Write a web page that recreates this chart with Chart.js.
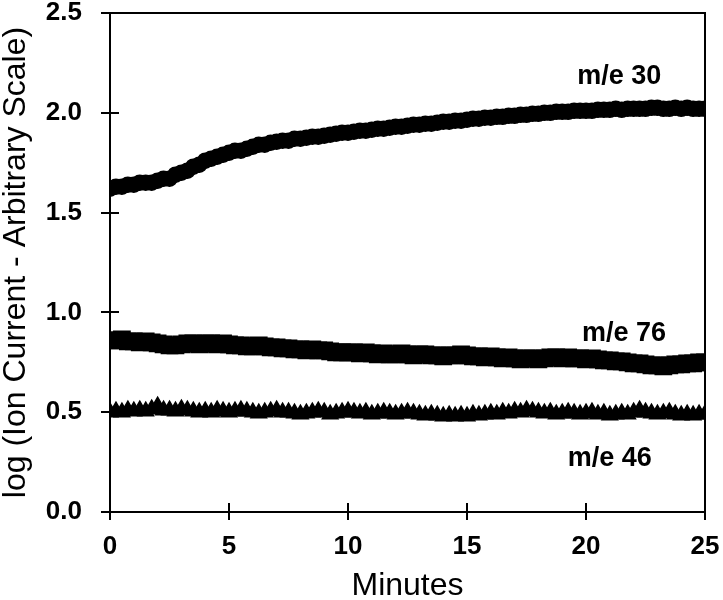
<!DOCTYPE html>
<html>
<head>
<meta charset="utf-8">
<script src="https://cdn.jsdelivr.net/npm/chart.js@4.4.0/dist/chart.umd.min.js"></script>
<style>
  html, body { margin: 0; padding: 0; background: #fff; }
</style>
</head>
<body>
<canvas id="myChart" width="723" height="600"></canvas>
<script>
// temps (minutes), un point tous les quarts de minute
const minutes = [
    0, 0.25, 0.5, 0.75, 1, 1.25, 1.5, 1.75, 2, 2.25,
    2.5, 2.75, 3, 3.25, 3.5, 3.75, 4, 4.25, 4.5, 4.75,
    5, 5.25, 5.5, 5.75, 6, 6.25, 6.5, 6.75, 7, 7.25,
    7.5, 7.75, 8, 8.25, 8.5, 8.75, 9, 9.25, 9.5, 9.75,
    10, 10.25, 10.5, 10.75, 11, 11.25, 11.5, 11.75, 12, 12.25,
    12.5, 12.75, 13, 13.25, 13.5, 13.75, 14, 14.25, 14.5, 14.75,
    15, 15.25, 15.5, 15.75, 16, 16.25, 16.5, 16.75, 17, 17.25,
    17.5, 17.75, 18, 18.25, 18.5, 18.75, 19, 19.25, 19.5, 19.75,
    20, 20.25, 20.5, 20.75, 21, 21.25, 21.5, 21.75, 22, 22.25,
    22.5, 22.75, 23, 23.25, 23.5, 23.75, 24, 24.25, 24.5, 24.75,
    25
];

// m/e 30
const me30 = [
    1.62, 1.63, 1.63, 1.64, 1.64, 1.65, 1.65, 1.65, 1.66, 1.67,
    1.67, 1.69, 1.70, 1.71, 1.73, 1.74, 1.76, 1.77, 1.78, 1.79,
    1.80, 1.81, 1.81, 1.82, 1.83, 1.84, 1.84, 1.85, 1.855, 1.86,
    1.86, 1.87, 1.87, 1.875, 1.88, 1.88, 1.885, 1.89, 1.895, 1.90,
    1.90, 1.905, 1.91, 1.91, 1.915, 1.92, 1.92, 1.925, 1.93, 1.93,
    1.935, 1.94, 1.94, 1.945, 1.945, 1.95, 1.955, 1.955, 1.96, 1.96,
    1.965, 1.97, 1.97, 1.975, 1.975, 1.98, 1.98, 1.985, 1.985, 1.99,
    1.99, 1.995, 1.995, 2.00, 2.00, 2.005, 2.005, 2.005, 2.01, 2.01,
    2.01, 2.01, 2.015, 2.015, 2.015, 2.02, 2.015, 2.02, 2.02, 2.02,
    2.02, 2.025, 2.025, 2.02, 2.02, 2.025, 2.02, 2.025, 2.02, 2.02,
    2.02
];

// m/e 76
const me76 = [
    0.86, 0.86, 0.865, 0.855, 0.855, 0.85, 0.855, 0.85, 0.845, 0.84,
    0.835, 0.835, 0.84, 0.845, 0.845, 0.84, 0.845, 0.845, 0.84, 0.845,
    0.84, 0.835, 0.835, 0.83, 0.83, 0.835, 0.83, 0.825, 0.825, 0.82,
    0.82, 0.815, 0.815, 0.81, 0.815, 0.81, 0.81, 0.805, 0.80, 0.80,
    0.80, 0.80, 0.795, 0.80, 0.795, 0.79, 0.795, 0.79, 0.79, 0.795,
    0.79, 0.785, 0.79, 0.79, 0.785, 0.785, 0.78, 0.785, 0.785, 0.79,
    0.785, 0.78, 0.78, 0.775, 0.78, 0.775, 0.77, 0.775, 0.77, 0.765,
    0.77, 0.77, 0.765, 0.77, 0.775, 0.775, 0.77, 0.775, 0.77, 0.77,
    0.765, 0.77, 0.765, 0.76, 0.76, 0.755, 0.755, 0.75, 0.745, 0.745,
    0.74, 0.735, 0.735, 0.73, 0.735, 0.74, 0.74, 0.745, 0.745, 0.75,
    0.75
];

// m/e 46
const me46 = [
    0.50, 0.505, 0.50, 0.51, 0.505, 0.51, 0.505, 0.515, 0.53, 0.51,
    0.51, 0.505, 0.515, 0.51, 0.505, 0.50, 0.505, 0.50, 0.51, 0.505,
    0.50, 0.505, 0.51, 0.505, 0.50, 0.495, 0.50, 0.505, 0.51, 0.50,
    0.50, 0.495, 0.49, 0.495, 0.50, 0.505, 0.50, 0.49, 0.495, 0.50,
    0.505, 0.50, 0.495, 0.50, 0.49, 0.495, 0.50, 0.495, 0.49, 0.495,
    0.50, 0.495, 0.49, 0.485, 0.49, 0.485, 0.48, 0.485, 0.48, 0.485,
    0.48, 0.49, 0.485, 0.49, 0.495, 0.49, 0.50, 0.495, 0.505, 0.50,
    0.51, 0.505, 0.50, 0.495, 0.50, 0.49, 0.495, 0.50, 0.495, 0.49,
    0.495, 0.50, 0.49, 0.495, 0.485, 0.49, 0.495, 0.49, 0.50, 0.51,
    0.50, 0.495, 0.49, 0.495, 0.50, 0.49, 0.485, 0.49, 0.485, 0.49,
    0.49
];

// étiquettes des courbes (coordonnées en minutes / valeur)
const seriesLabels = [
    { text: 'm/e 30', t: 21.4, v: 2.18 },
    { text: 'm/e 76', t: 21.6, v: 0.895 },
    { text: 'm/e 46', t: 21.0, v: 0.27 }
];

const toPoints = (values) => values.map((v, i) => ({ x: minutes[i], y: v }));

const tickFont = { family: '"Liberation Sans", Arial, sans-serif', size: 26, weight: 'bold' };
const titleFamily = '"Liberation Sans", Arial, sans-serif';

// cadre, petits traits intérieurs et étiquettes
const framePlugin = {
    id: 'frame',
    afterDraw(chart) {
        const { ctx, chartArea: a, scales: { x, y } } = chart;
        ctx.save();
        ctx.strokeStyle = '#000';
        ctx.lineWidth = 2;
        ctx.beginPath();
        ctx.moveTo(a.left, a.top);
        ctx.lineTo(a.right, a.top);
        ctx.lineTo(a.right, a.bottom);
        x.ticks.forEach(t => {
            const px = Math.round(x.getPixelForValue(t.value));
            ctx.moveTo(px, a.bottom);
            ctx.lineTo(px, a.bottom - 9);
        });
        y.ticks.forEach(t => {
            const py = Math.round(y.getPixelForValue(t.value));
            ctx.moveTo(a.left, py);
            ctx.lineTo(a.left + 9, py);
        });
        ctx.stroke();

        ctx.fillStyle = '#000';
        ctx.font = 'bold 27px "Liberation Sans", Arial, sans-serif';
        ctx.textAlign = 'center';
        ctx.textBaseline = 'middle';
        seriesLabels.forEach(l => {
            ctx.fillText(l.text, x.getPixelForValue(l.t), y.getPixelForValue(l.v));
        });
        ctx.restore();
    }
};

const markerStyle = {
    showLine: false,
    backgroundColor: '#000',
    borderColor: '#000',
    pointBackgroundColor: '#000',
    pointBorderColor: '#000',
    pointBorderWidth: 1.5
};

const config = {
    type: 'scatter',
    data: {
        datasets: [{
            label: 'm/e 46',
            data: toPoints(me46),
            pointStyle: 'triangle',
            pointRadius: 9,
            ...markerStyle
        }, {
            label: 'm/e 76',
            data: toPoints(me76),
            pointStyle: 'rect',
            pointRadius: 11.5,
            ...markerStyle
        }, {
            label: 'm/e 30',
            data: toPoints(me30),
            pointStyle: 'circle',
            pointRadius: 7.5,
            ...markerStyle
        }]
    },
    options: {
        responsive: false,
        animation: false,
        devicePixelRatio: 1,
        layout: {
            padding: { top: 11, right: 18, bottom: 0, left: 0 }
        },
        scales: {
            x: {
                type: 'linear',
                min: 0,
                max: 25,
                afterFit: (s) => { s.height = 88; s.paddingLeft = 0; s.paddingRight = 0; },
                ticks: {
                    stepSize: 5,
                    color: '#000',
                    font: tickFont,
                    padding: 11
                },
                grid: {
                    drawOnChartArea: false,
                    drawTicks: true,
                    tickLength: 8,
                    color: '#000',
                    lineWidth: 2
                },
                border: { display: true, color: '#000', width: 2 },
                title: {
                    display: true,
                    text: 'Minutes',
                    color: '#000',
                    font: { family: titleFamily, size: 32, lineHeight: 1 },
                    padding: { top: 0, bottom: -2 }
                }
            },
            y: {
                min: 0,
                max: 2.5,
                afterFit: (s) => { s.width = 110; s.paddingTop = 0; s.paddingBottom = 0; },
                ticks: {
                    stepSize: 0.5,
                    color: '#000',
                    font: tickFont,
                    padding: 19,
                    callback: (v) => v.toFixed(1)
                },
                grid: {
                    drawOnChartArea: false,
                    drawTicks: true,
                    tickLength: 9,
                    color: '#000',
                    lineWidth: 2
                },
                border: { display: true, color: '#000', width: 2 },
                title: {
                    display: true,
                    text: 'log (Ion Current - Arbitrary Scale)',
                    color: '#000',
                    font: { family: titleFamily, size: 32, lineHeight: 1 },
                    padding: { top: 0, bottom: 0 }
                }
            }
        },
        plugins: {
            legend: { display: false },
            tooltip: { enabled: false }
        }
    },
    plugins: [framePlugin]
};

let myChart = new Chart(document.getElementById('myChart'), config);
</script>
</body>
</html>
